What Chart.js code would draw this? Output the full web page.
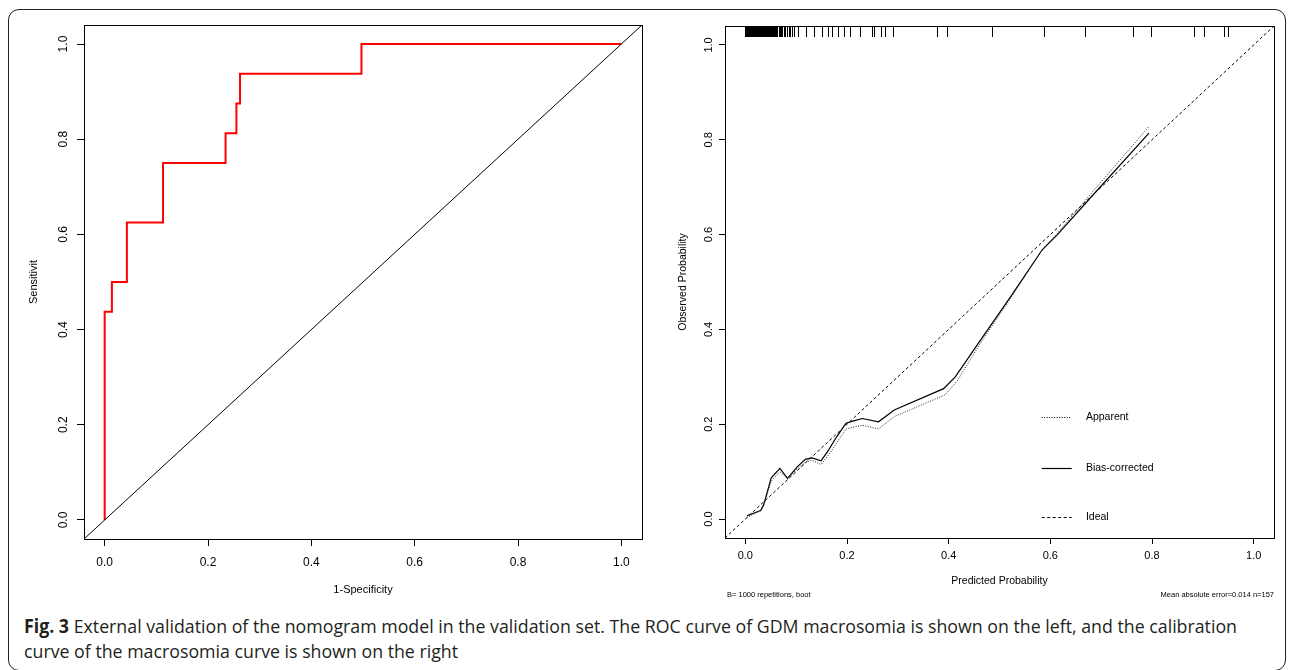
<!DOCTYPE html>
<html><head><meta charset="utf-8">
<script src="https://cdn.jsdelivr.net/npm/chart.js@4.4.1/dist/chart.umd.min.js"></script>
<style>
html,body{margin:0;padding:0;background:#fff;width:1293px;height:670px;overflow:hidden;}
#frame{position:absolute;left:8px;top:9px;width:1278px;height:662px;border:1.5px solid #231f20;border-radius:11px;box-sizing:border-box;}
#c1{position:absolute;left:0;top:0;}
#c2{position:absolute;left:660px;top:0;}
.cap{position:absolute;left:24px;font-family:"Open Sans","Noto Sans",sans-serif;font-size:19px;line-height:22px;color:#231f20;white-space:nowrap;transform-origin:0 50%;}
.cap b{font-weight:700;}
</style></head><body>
<div id="frame"></div>
<canvas id="c1" width="660" height="610"></canvas>
<canvas id="c2" width="633" height="610"></canvas>
<div class="cap" id="cap1" style="top:615px"><b>Fig. 3</b> External validation of the nomogram model in the validation set. The ROC curve of GDM macrosomia is shown on the left, and the calibration</div>
<div class="cap" id="cap2" style="top:640px">curve of the macrosomia curve is shown on the right</div>
<script>
// ---------- data ----------
const axisRange = [-0.04, 1.04];
const tickValues = [0, 0.2, 0.4, 0.6, 0.8, 1.0];

// ROC curve (left)
const rocFpr = [0, 0, 0.014, 0.014, 0.043, 0.043, 0.113, 0.113, 0.234, 0.234, 0.255, 0.255, 0.262, 0.262, 0.497, 0.497, 1.0];
const rocTpr = [0, 0.4375, 0.4375, 0.5, 0.5, 0.625, 0.625, 0.75, 0.75, 0.8125, 0.8125, 0.875, 0.875, 0.9375, 0.9375, 1.0, 1.0];

// Calibration curves (right)
const biasPred = [0.003, 0.030, 0.036, 0.051, 0.068, 0.083, 0.102, 0.118, 0.131, 0.149, 0.164, 0.180, 0.198, 0.213, 0.230, 0.262, 0.293, 0.390, 0.413, 0.463, 0.522, 0.584, 0.614, 0.675, 0.794];
const biasObs  = [0.007, 0.018, 0.030, 0.087, 0.107, 0.086, 0.110, 0.126, 0.129, 0.123, 0.146, 0.174, 0.202, 0.207, 0.212, 0.205, 0.230, 0.275, 0.300, 0.378, 0.469, 0.568, 0.600, 0.673, 0.814];
const appPred  = [0.003, 0.031, 0.036, 0.051, 0.068, 0.083, 0.102, 0.118, 0.131, 0.149, 0.167, 0.198, 0.230, 0.262, 0.293, 0.393, 0.416, 0.463, 0.522, 0.584, 0.614, 0.675, 0.794];
const appObs   = [0.003, 0.018, 0.028, 0.080, 0.100, 0.085, 0.106, 0.120, 0.124, 0.115, 0.140, 0.190, 0.198, 0.190, 0.216, 0.262, 0.290, 0.372, 0.466, 0.568, 0.603, 0.680, 0.828];

// rug of predicted probabilities
const rugPred = [0.000, 0.002, 0.004, 0.005, 0.007, 0.008, 0.010, 0.011, 0.013, 0.014, 0.016, 0.017, 0.019, 0.020, 0.022, 0.023, 0.025, 0.027, 0.028, 0.030, 0.031, 0.033, 0.035, 0.036, 0.038, 0.040, 0.041, 0.043, 0.045, 0.047, 0.049, 0.051, 0.053, 0.054, 0.056, 0.058, 0.061, 0.063, 0.066, 0.068, 0.071, 0.073, 0.076, 0.079, 0.082, 0.085, 0.088, 0.091, 0.095,
  0.103, 0.119, 0.135, 0.151, 0.163, 0.171, 0.183, 0.194, 0.206, 0.226, 0.250, 0.254, 0.266, 0.274, 0.290, 0.378, 0.397, 0.485, 0.588, 0.668, 0.763, 0.799, 0.882, 0.902, 0.942, 0.950];

const legendLabels = ['Apparent', 'Bias-corrected', 'Ideal'];
const noteLeft = 'B= 1000 repetitions, boot';
const noteRight = 'Mean absolute error=0.014 n=157';

// ---------- helpers ----------
const FONT = '"Liberation Sans", Arial, sans-serif';
const toXY = (xs, ys) => xs.map((v, i) => ({x: v, y: ys[i]}));
const diagLine = [{x: axisRange[0], y: axisRange[0]}, {x: axisRange[1], y: axisRange[1]}];

function makeScales(o) {
  const tickFont = {family: FONT, size: o.tickSize};
  const titleFont = {family: FONT, size: o.titleSize};
  const setTicks = s => { s.ticks = tickValues.map(v => ({value: v})); };
  const fmt = v => Number(v).toFixed(1);
  const grid = {drawOnChartArea: false, drawTicks: true, tickLength: o.tl, color: '#000', lineWidth: 1};
  return {
    x: {type: 'linear', position: 'bottom', min: axisRange[0], max: axisRange[1],
      afterBuildTicks: setTicks, afterFit: s => { s.height = o.xH; },
      grid: grid, border: {display: false},
      ticks: {color: '#000', font: tickFont, padding: o.xPad, maxRotation: 0, minRotation: 0, autoSkip: false, callback: fmt},
      title: {display: true, text: o.xTitle, color: '#000', font: titleFont, padding: {top: 0, bottom: o.xTitlePad}}},
    y: {type: 'linear', position: 'left', min: axisRange[0], max: axisRange[1],
      afterBuildTicks: setTicks, afterFit: s => { s.width = o.yW; },
      grid: grid, border: {display: false},
      ticks: {color: '#000', font: tickFont, padding: o.yPad, minRotation: 90, maxRotation: 90, crossAlign: 'center', autoSkip: false, callback: fmt},
      title: {display: true, text: o.yTitle, color: '#000', font: titleFont, padding: {top: o.yTitlePad, bottom: 0}}}
  };
}

const boxPlugin = {id: 'box', afterDraw(chart) {
  const {ctx, chartArea: a} = chart;
  ctx.save(); ctx.strokeStyle = '#000'; ctx.lineWidth = 1;
  ctx.strokeRect(Math.round(a.left) + 0.5, Math.round(a.top) + 0.5, Math.round(a.right - a.left), Math.round(a.bottom - a.top));
  ctx.restore();
}};

const rugPlugin = {id: 'rug', afterDatasetsDraw(chart) {
  const {ctx, chartArea: a, scales: {x}} = chart;
  ctx.save(); ctx.strokeStyle = '#000'; ctx.lineWidth = 1; ctx.beginPath();
  rugPred.forEach(v => { const px = Math.round(x.getPixelForValue(v)) + 0.5; ctx.moveTo(px, a.top); ctx.lineTo(px, a.top + 11); });
  ctx.stroke(); ctx.restore();
}};

const legendPlugin = {id: 'calLegend', afterDraw(chart) {
  const {ctx, scales: {x, y}} = chart;
  const rows = [{y: 0.215, dash: [1, 1.5], w: 1}, {y: 0.108, dash: [], w: 1.2}, {y: 0.004, dash: [3, 2.5], w: 1}];
  ctx.save(); ctx.strokeStyle = '#000'; ctx.fillStyle = '#000';
  ctx.font = '10.5px ' + FONT; ctx.textBaseline = 'middle'; ctx.textAlign = 'left';
  legendLabels.forEach((lab, i) => {
    const py = Math.round(y.getPixelForValue(rows[i].y)) + 0.5;
    ctx.lineWidth = rows[i].w; ctx.setLineDash(rows[i].dash);
    ctx.beginPath(); ctx.moveTo(x.getPixelForValue(0.583), py); ctx.lineTo(x.getPixelForValue(0.642), py); ctx.stroke();
    ctx.setLineDash([]);
    ctx.fillText(lab, x.getPixelForValue(0.670), py);
  });
  ctx.restore();
}};

const notesPlugin = {id: 'notes', afterDraw(chart) {
  const {ctx, chartArea: a} = chart;
  ctx.save(); ctx.fillStyle = '#000'; ctx.font = '7.5px ' + FONT; ctx.textBaseline = 'middle';
  ctx.textAlign = 'left'; ctx.fillText(noteLeft, a.left + 2, 595);
  ctx.textAlign = 'right'; ctx.fillText(noteRight, a.right, 595);
  ctx.restore();
}};

const common = {responsive: false, animation: false, devicePixelRatio: 1,
  plugins: {legend: {display: false}, tooltip: {enabled: false}},
  elements: {point: {radius: 0}, line: {tension: 0}}};

// ---------- left chart: ROC ----------
new Chart(document.getElementById('c1'), {
  type: 'scatter',
  data: {datasets: [
    {data: diagLine, showLine: true, borderColor: '#000', borderWidth: 1, pointRadius: 0},
    {data: toXY(rocFpr, rocTpr), showLine: true, borderColor: '#ff0000', borderWidth: 2, pointRadius: 0}
  ]},
  options: Object.assign({}, common, {
    layout: {padding: {left: 0, top: 25, right: 18, bottom: 0}},
    scales: makeScales({tickSize: 12, titleSize: 11, tl: 7, xH: 71, yW: 84, xPad: 9, yPad: 4.5,
      xTitle: '1-Specificity', yTitle: 'Sensitivit', xTitlePad: 13.4, yTitlePad: 27.4})
  }),
  plugins: [boxPlugin]
});

// ---------- right chart: calibration ----------
new Chart(document.getElementById('c2'), {
  type: 'scatter',
  data: {datasets: [
    {data: diagLine, showLine: true, borderColor: '#000', borderWidth: 1, borderDash: [3, 2.5], pointRadius: 0},
    {data: toXY(appPred, appObs), showLine: true, borderColor: '#222', borderWidth: 1, borderDash: [1, 1.5], pointRadius: 0},
    {data: toXY(biasPred, biasObs), showLine: true, borderColor: '#000', borderWidth: 1.2, pointRadius: 0}
  ]},
  options: Object.assign({}, common, {
    layout: {padding: {left: 0, top: 26, right: 19, bottom: 0}},
    scales: makeScales({tickSize: 11, titleSize: 10.5, tl: 6, xH: 72, yW: 65, xPad: 5.4, yPad: 2.4,
      xTitle: 'Predicted Probability', yTitle: 'Observed Probability', xTitlePad: 22.7, yTitlePad: 16.7})
  }),
  plugins: [boxPlugin, rugPlugin, legendPlugin, notesPlugin]
});

// ---------- caption fit ----------
(function () {
  const c1 = document.getElementById('cap1'), c2 = document.getElementById('cap2');
  const w = c1.getBoundingClientRect().width;
  const s = 1213 / w;
  c1.style.transform = 'scaleX(' + s + ')';
  c2.style.transform = 'scaleX(' + s + ')';
})();
</script>
</body></html>
